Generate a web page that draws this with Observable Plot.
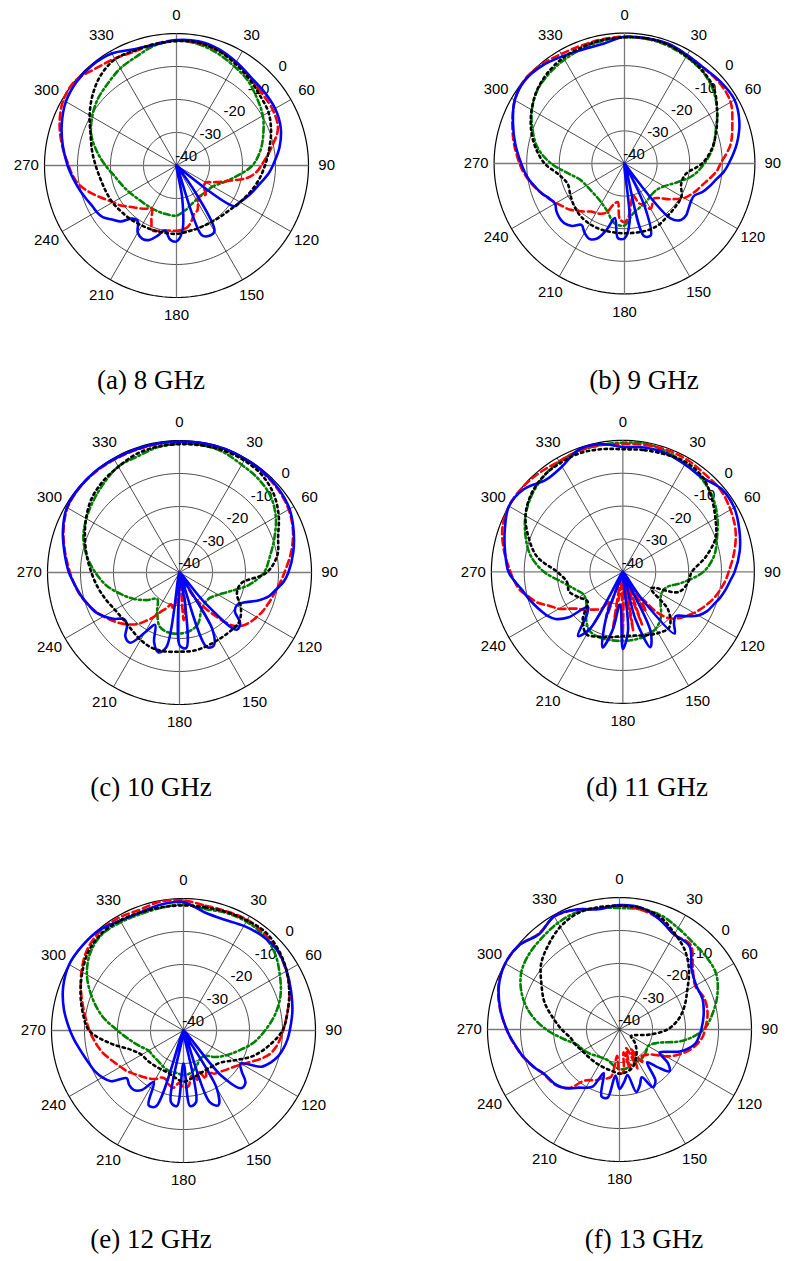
<!DOCTYPE html>
<html>
<head>
<meta charset="utf-8">
<script src="https://cdn.jsdelivr.net/npm/d3@7"></script>
<script src="https://cdn.jsdelivr.net/npm/@observablehq/plot@0.6"></script>
<style>
  body { margin: 0; background: #fff; }
  #page { position: relative; width: 787px; height: 1261px; overflow: hidden; background: #fff; }
  .panel { position: absolute; }
  .caption {
    position: absolute; white-space: nowrap; transform: translateX(-50%);
    font-family: "Liberation Serif", "Times New Roman", serif; font-size: 27px; line-height: 27px; color: #000;
  }
</style>
</head>
<body>
<div id="page"></div>
<script>
// Sample angles (degrees, clockwise from the top). Solid and dashed traces are
// sampled more densely over the back lobes.
const FINE_DEG = [0,10,20,30,40,50,60,70,80,90,
  95,100,105,110,115,120,125,130,135,140,145,150,155,160,165,170,175,180,185,190,
  195,200,205,210,215,220,225,230,235,240,245,250,255,260,265,
  270,280,290,300,310,320,330,340,350];
const COARSE_DEG = [0,10,20,30,40,50,60,70,80,90,100,110,120,130,140,150,160,170,
  180,190,200,210,220,230,240,250,260,270,280,290,300,310,320,330,340,350];

// Radial ticks (dB) and angular ticks (degrees)
const RING_DB = [-30, -20, -10, 0];
const RING_LABELS = [-40, -30, -20, -10, 0];
const ANGLE_TICKS = [0,30,60,90,120,150,180,210,240,270,300,330];
const SPOKE_DEG = [0,30,60,90,120,150];

// ---- 8 GHz ----
const blue8 = [-2,-1.8,-2.5,-3.8,-5,-5.3,-5.5,-6.4,-8.3,-10.8,
  -12,-13.5,-14.8,-15.8,-16.8,-17.8,-18.5,-40,-45,-45,-30,-17,-16.5,-17.5,-40,-30,-20,-17,-17.5,-20,
  -18,-16,-15.5,-16.5,-19.5,-19,-16,-14.5,-12.7,-12,-11.6,-10.8,-9.9,-9,-8,
  -7,-5,-3,-1.3,-0.5,-0.3,-0.8,-2.5,-2.8];
const red8 = [-2.1,-2.3,-2.9,-3.9,-5.3,-6.1,-6.3,-7.3,-11,-14.3,
  -15.8,-18.3,-22.5,-25.5,-28,-29.7,-29.7,-29,-27.5,-28,-28.5,-27,-25,-24.4,-22.5,-21,-20.5,-20.2,-20.2,-20,
  -19.5,-19,-22,-25,-24,-23,-22,-20.7,-19,-17.8,-16,-13.8,-11.5,-9.5,-8.3,
  -7.3,-4.8,-2.3,-0.4,0,-1.7,-2.6,-3.2,-2.6];
const black8 = [-2.3,-2.2,-3,-4.4,-5.7,-7,-7.8,-9.5,-11.5,-13.2,-14.7,-16.3,-17.8,-19,-19.6,-19.9,-19.9,-19.7,
  -19.3,-19.3,-19.2,-19,-18.6,-18.2,-17.6,-17.2,-16.6,-15.5,-14,-12.3,-9.6,-6.8,-4.3,-2.8,-2.9,-2.6];
const green8 = [-2.2,-2.6,-3.8,-5.2,-6.4,-8.2,-9.8,-12,-14.2,-17,-21.5,-25,-27.3,-28,-28.3,-28,-27.3,-26,
  -24.8,-24.9,-25,-25,-24.9,-24.5,-23.6,-22.5,-21,-18.5,-15.5,-12.5,-10.5,-8.8,-7.6,-6,-4.8,-3];

// ---- 9 GHz ----
const blue9 = [-1.1,-1,-0.9,-1.6,-1.9,-1.3,-1,-2.5,-5,-8,
  -9.5,-11.5,-13,-14.5,-16.5,-16.5,-16,-15.3,-15.5,-18,-40,-40,-25,-16.5,-17,-40,-22,-17,-17,-23,
  -19,-15.5,-14.5,-15.5,-17,-15,-14,-14,-14.5,-15.4,-14.6,-13,-11.8,-10.4,-9.3,
  -8.3,-6,-3.6,-1.1,-0.2,-0.8,-2,-2.8,-2.7];
const red9 = [-1.1,-1.1,-1,-1.6,-2,-1.8,-2.4,-4.8,-7,-10.5,
  -11.7,-13.5,-15.1,-16.3,-17.5,-18.8,-21,-23,-25,-26,-25,-24,-26,-27,-30,-28,-24,-22,-23,-28,
  -27,-24,-23,-22.5,-22,-20.8,-19.5,-18,-17,-15.8,-14.4,-13.1,-11.6,-10.2,-8.9,
  -7.8,-5.6,-3.4,-1.2,0,-0.4,-1.2,-1.5,-1.3];
const black9 = [-1.3,-1,-1.2,-2,-2.8,-4.2,-7.2,-10,-12.7,-16.2,-21,-21.5,-19.8,-19.5,-19.2,-18.5,-18.3,-18.5,
  -18.6,-18.6,-18.5,-18.6,-19,-19.8,-20.8,-21.5,-19.7,-15.5,-12.3,-9.5,-7.1,-5,-3.5,-2.5,-2,-1.5];
const green9 = [-1.3,-1.2,-1.5,-2.2,-3,-4.6,-7.2,-10.2,-12.5,-15.5,-18.7,-23,-26,-27.3,-27.3,-26.5,-25.8,-24.5,
  -21,-21.5,-24.5,-26,-26.7,-26.8,-26.5,-25.5,-22.5,-17.5,-13,-10,-7.2,-5.1,-4,-3.2,-2.5,-1.8];

// ---- 10 GHz ----
const blue10 = [-0.4,-0.2,-0.1,-0.3,-0.4,-0.7,-1.5,-3.2,-5,-7,
  -8.3,-10.3,-12,-15,-18.5,-20,-19.5,-16,-15.5,-28,-45,-20,-15.5,-16,-40,-30,-17,-18,-40,-17,
  -15,-17.5,-22.5,-19,-14,-14.5,-17.5,-18,-15.5,-13.5,-11.8,-10.8,-9.7,-8.7,-7.7,
  -6.5,-4.6,-2.4,-0.6,-0.2,-0.1,-0.3,-0.4,-0.4];
const red10 = [-0.5,-0.3,-0.2,-0.4,-0.6,-1,-1.8,-3.4,-5.7,-8.2,
  -9.2,-10.2,-10.9,-11.6,-12.2,-13,-13.8,-15,-17.3,-22.5,-27.5,-32,-40,-36,-40,-30,-25.5,-40,-33,-29,
  -30,-28.5,-27,-24.5,-22,-19.5,-17.8,-16.2,-14.8,-13.4,-12,-10.8,-9.6,-8.6,-7.7,
  -6.8,-4.8,-2.6,-0.8,-0.3,-0.3,-0.5,-0.6,-0.5];
const black10 = [-1.1,-0.9,-0.7,-0.8,-1.3,-2.8,-5.3,-8.2,-9.9,-13.6,-21,-21.5,-18.5,-16.5,-16.5,-16.5,-16.2,-15.9,
  -16,-15.7,-15.7,-16.4,-17.4,-17.8,-17.4,-16.2,-14.8,-13.3,-11.5,-9.5,-7.3,-5.2,-3.9,-3,-1.8,-1.3];
const green10 = [-1,-0.8,-1.2,-2.3,-2.9,-4,-6.3,-9.4,-12.2,-14.4,-18.6,-23.5,-26.5,-28,-28,-26.8,-23.5,-22,
  -21.5,-21.5,-22.5,-26.5,-29.5,-27,-24,-21,-17.5,-14.5,-11.5,-9,-7.4,-6,-4.5,-2.9,-2.6,-1.5];

// ---- 11 GHz ----
const blue11 = [-2,-1.6,-1.6,-2.3,-2.5,-0.8,-0.9,-2.3,-3.9,-6,
  -7.3,-8.3,-9.4,-10.7,-11.7,-13.5,-16.5,-19,-18,-15.5,-30,-40,-20,-15.6,-25,-40,-22,-16.5,-30,-22,
  -16.2,-25,-40,-20,-16.2,-23,-25,-18.5,-15,-13.4,-12.3,-11.2,-10,-8.8,-7,
  -5.2,-3.6,-1.8,0,-0.8,-3.5,-3,-0.5,-0.5];
const red11 = [-1.1,-0.8,-0.6,-0.7,-1.2,-1.2,-2.2,-3.5,-5.6,-7.8,
  -8.7,-9.8,-10.9,-12.2,-13.6,-15,-16.6,-18,-20,-24,-30,-26,-40,-23,-40,-22,-40,-21,-40,-23,
  -40,-25,-30,-27,-26,-25,-23.5,-22.5,-20.5,-17.5,-15.5,-12.5,-10.5,-8.2,-6.9,
  -5.8,-3.3,-1,0,-0.1,-0.6,-1.2,-0.8,-0.9];
const black11 = [-2.7,-2.4,-2,-1.5,-2.3,-4.8,-7.5,-10,-14.5,-19,-20,-22,-30,-22,-18,-18.5,-19.5,-20.3,
  -20.5,-19.8,-19,-18,-21,-26,-24.5,-22.6,-22.7,-20,-13.5,-9.5,-5.8,-3.5,-2.2,-1.8,-1.6,-2.1];
const green11 = [-0.7,-0.4,-1.1,-2,-2.9,-4.4,-6.8,-9.5,-11.8,-15.5,-21.5,-26,-26.5,-25,-22,-20,-19.3,-19.1,
  -19,-18.9,-18.8,-19.5,-22.5,-25.5,-26.2,-24.5,-21.5,-16,-11.5,-8.5,-5.8,-3.8,-2.3,-1.3,-0.9,-0.8];

// ---- 12 GHz ----
const blue12 = [-1.1,-3.6,-4.2,-3.4,-2.7,-2.6,-3.9,-5.3,-6.5,-7.8,
  -8.4,-9.2,-10.2,-11.8,-14,-20,-18.5,-15.5,-15.3,-22,-40,-20,-15,-17,-40,-18,-17,-30,-17,-18,
  -40,-15.5,-15,-22,-18,-16.5,-16.7,-17.5,-13.2,-11.6,-10.5,-9.8,-9,-8,-6.8,
  -5.6,-3.2,-1.2,0,0,-0.3,-1.6,-1.9,-1.2];
const red12 = [-0.6,-1.6,-1.6,-1.3,-1.8,-2.7,-4,-5.8,-8,-9.8,
  -10.6,-11.5,-12.8,-15,-17.5,-19.5,-21,-22,-22.8,-23.5,-24,-26,-24,-27,-24.3,-26,-23,-22.8,-24,-22.4,
  -23,-24.3,-24.3,-23,-22.2,-21.5,-20.8,-19.8,-18.8,-18,-17,-15.8,-14.5,-13.5,-12.5,
  -11.5,-9.5,-7,-4.3,-1.9,-0.7,-0.6,-1.1,-0.3];
const black12 = [-2.1,-2.1,-1.8,-1.5,-1.2,-2.3,-3.9,-5.9,-8,-10,-13.7,-17.5,-22,-25,-26,-26.3,-26,-25.3,
  -24.5,-25.5,-26.4,-26.4,-26.2,-25.8,-25.3,-23,-17.5,-11.4,-9,-6.8,-4.6,-2.5,-1.5,-1.5,-1.9,-2.1];
const green12 = [-1.8,-2.6,-2.1,-1.9,-2.3,-3.8,-6.3,-8.7,-11.8,-15.3,-18.5,-22.2,-25,-27.5,-30,-30,-28.5,-27,
  -26.5,-27,-27,-27.5,-28,-28,-27.8,-26,-23.5,-20,-15,-10.5,-6.2,-3.2,-1.8,-2.1,-2.4,-2.2];

// ---- 13 GHz ----
const blue13 = [-2.3,-2.5,-4.5,-6.8,-7,-11.5,-13.2,-13.2,-14.1,-15.2,
  -15.8,-16.5,-18.2,-20.5,-24,-26,-22,-20.3,-24,-27,-21,-19.8,-24,-22,-20.4,-26,-24,-22,-26,-19,
  -19,-26,-21,-19.6,-18.5,-16.7,-15.3,-14.4,-14,-13.4,-12,-10.8,-9.5,-8.4,-7.1,
  -5.8,-3.3,-1.1,0,-0.3,-2.2,-0.4,-1.3,-3];
const red13 = [-2.5,-3.1,-4.4,-6.8,-6.5,-11,-13.5,-12.6,-12.9,-14.1,
  -14.7,-15.9,-17.4,-19.3,-21.4,-23.7,-26.5,-28.3,-29,-29.5,-28,-33,-27,-34,-27.3,-33,-27,-26.7,-32,-25.5,
  -24.6,-24.2,-23,-22.3,-21,-17,-15.2,-14.2,-13.8,-13.3,-12,-10.7,-9.4,-8.3,-7,
  -5.8,-3.2,-1,0,-0.3,-2,-0.5,-1.4,-2.8];
const black13 = [-2.5,-2.6,-3.8,-6.5,-9,-12.5,-16.3,-19,-21.8,-25.5,-31,-35,-36,-34,-32,-30,-28,-27,
  -26.6,-27.2,-27.5,-27.6,-27.6,-27.4,-27,-26,-25,-22.5,-19.5,-15.8,-12.7,-9,-6.5,-4.1,-2.6,-2.4];
const green13 = [-3.2,-3,-3.2,-4.5,-5.5,-5.7,-6.2,-8.4,-11.3,-14.5,-20.5,-28,-30,-29.5,-29,-29,-28.8,-28,
  -28,-29,-30,-30,-29.5,-28.5,-27.5,-26.4,-23,-17.8,-12.6,-8.5,-5.6,-4.3,-3.6,-2.7,-2.2,-2.6];

const CAPTIONS = ["(a) 8 GHz", "(b) 9 GHz", "(c) 10 GHz", "(d) 11 GHz", "(e) 12 GHz", "(f) 13 GHz"];

// Panel layout on the page: polar centre (px) and caption baseline
const PANELS = [
  {cx: 175.5, cy: 165,   cap: 151, base: 390,  data: [blue8,  red8,  black8,  green8]},
  {cx: 626,   cy: 165,   cap: 644, base: 390,  data: [blue9,  red9,  black9,  green9]},
  {cx: 178.7, cy: 572.3, cap: 151, base: 797,  data: [blue10, red10, black10, green10]},
  {cx: 623.3, cy: 572.3, cap: 647, base: 797,  data: [blue11, red11, black11, green11]},
  {cx: 182.7, cy: 1030,  cap: 151, base: 1249, data: [blue12, red12, black12, green12]},
  {cx: 619.3, cy: 1029.3,cap: 644, base: 1249, data: [blue13, red13, black13, green13]}
];

const SIZE = 330;        // svg size in px
const HALF = 50;         // half-extent of the x/y domains in radial units
const FLOOR = -40;       // dB at the centre
const rad = db => Math.max(0, db - FLOOR);
const toRad = a => a * Math.PI / 180;
const px = (r, a) => r * Math.sin(toRad(a));
const py = (r, a) => r * Math.cos(toRad(a));

function pattern(deg, values) {
  return deg.map((a, i) => ({a, db: values[i]}));
}

function polar([blue, red, black, green]) {
  const rings = RING_DB.flatMap(db => d3.range(0, 360, 2).map(a => ({db, a})));
  const lineOpts = (extra) => Object.assign({
    x: d => px(rad(d.db), d.a),
    y: d => py(rad(d.db), d.a),
    curve: "catmull-rom-closed",
    strokeWidth: 2.6,
    strokeLinejoin: "round"
  }, extra);
  return Plot.plot({
    width: SIZE, height: SIZE, margin: 0,
    x: {domain: [-HALF, HALF], axis: null},
    y: {domain: [-HALF, HALF], axis: null},
    style: {background: "transparent", fontFamily: "'Liberation Sans', Arial, sans-serif", overflow: "visible"},
    marks: [
      // range rings
      Plot.line(rings, {
        x: d => px(rad(d.db), d.a), y: d => py(rad(d.db), d.a), z: "db",
        curve: "linear-closed", stroke: "#000",
        strokeWidth: d => d.db === 0 ? 1.2 : 0.7
      }),
      // spokes through the centre
      Plot.link(SPOKE_DEG, {
        x1: a => px(rad(0), a), y1: a => py(rad(0), a),
        x2: a => px(rad(0), a + 180), y2: a => py(rad(0), a + 180),
        stroke: a => (a % 90 === 0 ? "#7a7a7a" : "#000"),
        strokeWidth: a => (a % 90 === 0 ? 1.3 : 0.7)
      }),
      // angle labels
      Plot.text(ANGLE_TICKS, {
        x: a => px(45.5, a), y: a => py(45.5, a), text: a => String(a),
        fontSize: 15, fill: "#000"
      }),
      // radial labels
      Plot.text(RING_LABELS, {
        x: db => px(rad(db) + 4, 47), y: db => py(rad(db) + 4, 47), text: db => String(db),
        fontSize: 15, fill: "#000"
      }),
      // patterns
      Plot.line(pattern(COARSE_DEG, green), lineOpts({stroke: "#008000", strokeDasharray: "6,3,2,3"})),
      Plot.line(pattern(FINE_DEG, red), lineOpts({stroke: "#ff0000", strokeDasharray: "7,4"})),
      Plot.line(pattern(FINE_DEG, blue), lineOpts({stroke: "#0000ff"})),
      Plot.line(pattern(COARSE_DEG, black), lineOpts({stroke: "#000", strokeDasharray: "2.4,3.6", strokeLinejoin: "miter"}))
    ]
  });
}

const page = document.getElementById("page");
PANELS.forEach((p, i) => {
  const wrap = document.createElement("div");
  wrap.className = "panel";
  wrap.style.left = (p.cx - SIZE / 2) + "px";
  wrap.style.top = (p.cy - SIZE / 2) + "px";
  wrap.appendChild(polar(p.data));
  page.appendChild(wrap);

  const cap = document.createElement("div");
  cap.className = "caption";
  cap.textContent = CAPTIONS[i];
  cap.style.left = p.cap + "px";
  cap.style.top = (p.base - 22.6) + "px";
  page.appendChild(cap);
});
</script>
</body>
</html>
